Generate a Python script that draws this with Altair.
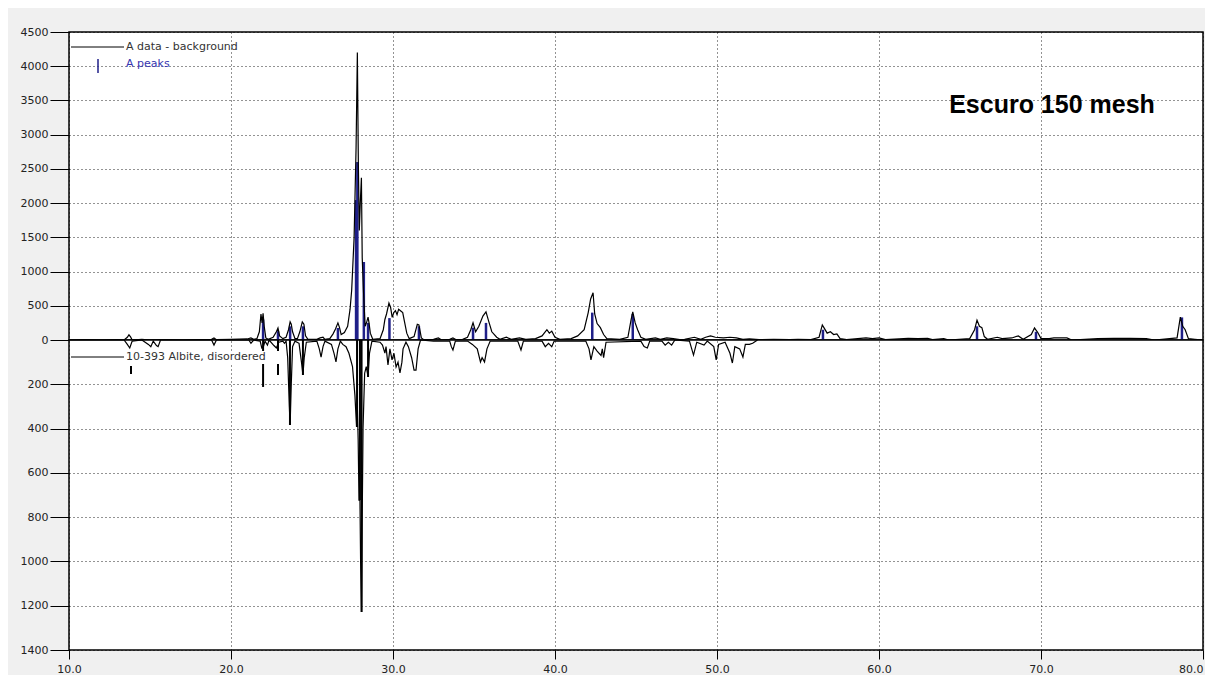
import altair as alt
import pandas as pd

# ---------------- data ----------------
# Top: measured pattern minus background (2-theta, counts)
TOP_TT = [
    10.0, 11.0, 12.0, 13.0, 13.4, 13.6, 13.7, 13.8, 13.9, 14.5, 15.0, 16.0, 17.0, 18.0,
    18.8, 18.95, 19.1, 20.0, 21.0, 21.23, 21.4, 21.6, 21.75, 21.85, 21.92, 21.98, 22.05,
    22.15, 22.3, 22.6, 22.8, 22.9, 23.0, 23.2, 23.4, 23.55, 23.65, 23.72, 23.8, 23.95,
    24.1, 24.25, 24.4, 24.5, 24.6, 24.75, 25.3, 25.5, 25.68, 25.8, 26.1, 26.3, 26.45,
    26.6, 26.7, 26.8, 27.0, 27.2, 27.35, 27.45, 27.6, 27.72, 27.8, 27.86, 27.92, 27.98,
    28.05, 28.1, 28.18, 28.28, 28.38, 28.46, 28.52, 28.6, 28.75, 29.2, 29.4, 29.5, 29.6,
    29.75, 29.85, 29.95, 30.05, 30.15, 30.25, 30.35, 30.5, 30.6, 30.7, 30.85, 31.0, 31.3,
    31.5, 31.6, 31.75, 31.9, 32.5, 32.8, 33.0, 33.5, 33.7, 33.9, 34.3, 34.6, 34.8, 34.94,
    35.1, 35.3, 35.55, 35.74, 35.9, 36.1, 36.4, 36.6, 37.0, 37.3, 37.8, 38.2, 38.8, 39.2,
    39.5, 39.65, 39.8, 40.0, 40.3, 41.0, 41.4, 41.8, 42.05, 42.2, 42.35, 42.45, 42.6,
    42.8, 43.0, 43.2, 44.0, 44.5, 44.7, 44.8, 44.95, 45.1, 45.3, 45.6, 46.2, 46.5, 46.9,
    47.3, 47.7, 48.0, 48.6, 49.0, 49.3, 49.6, 49.9, 50.4, 50.8, 51.2, 51.6, 52.0, 52.6,
    53.5, 54.5, 55.0, 55.8, 56.3, 56.5, 56.6, 56.8, 57.0, 57.2, 57.4, 57.6, 58.0, 59.2,
    59.6, 60.0, 60.4, 61.8, 62.4, 63.0, 63.3, 64.0, 64.3, 65.6, 65.9, 66.05, 66.2, 66.35,
    66.5, 66.7, 67.3, 67.6, 68.2, 68.6, 68.9, 69.4, 69.6, 69.8, 70.0, 70.5, 70.8, 71.6,
    71.9, 73.5, 74.5, 75.5, 76.5, 77.0, 78.4, 78.6, 78.75, 78.9, 79.1, 79.5, 80.0,
]
TOP_CNT = [
    0, 5, 0, 5, 0, 40, 75, 45, 0, 10, 0, 5, 0, 5,
    10, 30, 5, 10, 15, 30, 10, 20, 120, 380, 250, 390, 200,
    30, 10, 40, 120, 175, 60, 20, 40, 150, 265, 230, 120, 20,
    20, 120, 265, 230, 60, 10, 10, 30, 40, 10, 20, 90, 160,
    250, 180, 80, 110, 200, 450, 730, 1500, 2800, 4200, 2600, 1600, 2000,
    2370, 1200, 700, 200, 265, 335, 250, 100, 10, 20, 150, 300, 380,
    540, 480, 330, 400, 430, 370, 450, 420, 400, 280, 100, 20, 50,
    230, 220, 30, 5, 10, 30, 0, 10, 30, 5, 10, 40, 150, 250,
    120, 200, 350, 410, 280, 120, 40, 10, 40, 10, 30, 10, 20, 60,
    150, 100, 130, 40, 10, 20, 60, 150, 400, 600, 690, 380, 240,
    180, 80, 20, 10, 40, 300, 410, 250, 150, 40, 10, 30, 10, 30,
    20, 5, 10, 40, 10, 40, 60, 40, 30, 40, 30, 10, 15, 5,
    10, 5, 10, 5, 40, 220, 180, 100, 120, 80, 90, 20, 5, 30,
    20, 30, 5, 25, 20, 25, 5, 20, 0, 20, 150, 290, 200, 180,
    50, 10, 40, 20, 30, 60, 10, 80, 175, 110, 20, 20, 30, 30,
    0, 20, 25, 25, 20, 0, 30, 335, 200, 150, 20, 10, 0,
]

# Top: identified peaks (blue sticks)
PEAK_TT = [21.98, 22.9, 23.65, 24.44, 26.6, 27.72, 27.8, 28.2, 28.46, 29.78, 31.6,
           34.94, 35.74, 42.3, 44.8, 56.54, 66.05, 69.69, 78.7]
PEAK_CNT = [300, 130, 200, 200, 175, 2045, 2600, 1140, 250, 320, 200,
            180, 250, 400, 380, 150, 200, 120, 330]

# Bottom: reference 10-393 Albite, disordered (profile, drawn downward)
REF_TT = [
    10.0, 13.4, 13.6, 13.75, 13.9, 14.5, 14.9, 15.05, 15.2, 15.4, 15.5, 15.65, 18.8,
    18.95, 19.1, 21.1, 21.23, 21.4, 21.8, 21.9, 22.0, 22.1, 22.25, 22.35, 22.65, 22.8,
    22.95, 23.2, 23.3, 23.4, 23.5, 23.6, 23.65, 23.72, 23.8, 23.95, 24.2, 24.35, 24.44,
    24.52, 24.65, 25.3, 25.45, 25.56, 25.68, 25.8, 26.2, 26.36, 26.48, 26.6, 26.75, 26.9,
    27.1, 27.28, 27.5, 27.65, 27.75, 27.8, 27.85, 27.9, 27.96, 28.0, 28.06, 28.1, 28.15,
    28.25, 28.35, 28.46, 28.55, 28.7, 29.2, 29.35, 29.5, 29.57, 29.69, 29.81, 29.94,
    30.06, 30.19, 30.31, 30.43, 30.55, 30.62, 30.8, 30.95, 31.15, 31.3, 31.42, 31.55,
    31.7, 32.5, 33.5, 33.6, 33.7, 33.85, 34.6, 34.9, 35.2, 35.4, 35.5, 35.65, 35.8, 36.0,
    37.7, 37.9, 38.05, 39.2, 39.4, 39.6, 39.8, 39.95, 41.9, 42.1, 42.22, 42.4, 42.6,
    42.84, 42.92, 43.0, 43.15, 45.3, 45.5, 45.7, 45.85, 46.6, 46.8, 47.0, 47.2, 47.4,
    48.3, 48.55, 48.75, 49.2, 49.4, 49.8, 49.95, 50.1, 50.5, 50.8, 50.95, 51.1, 51.4,
    51.6, 51.75, 52.0, 52.2, 52.5,
]
REF_INT = [
    0, 0, 20, 36, 5, 0, 20, 30, 5, 25, 30, 0, 0,
    23, 0, 0, 15, 0, 5, 36, 30, 5, 23, 0, 25, 36,
    10, 5, 15, 5, 80, 300, 384, 200, 30, 5, 15, 100, 158,
    80, 10, 5, 40, 77, 30, 5, 20, 60, 99, 40, 5, 20,
    30, 60, 120, 250, 393, 300, 450, 723, 723, 1000, 1228, 800, 400,
    150, 120, 167, 59, 5, 10, 23, 59, 30, 113, 40, 90,
    60, 122, 100, 149, 100, 40, 10, 30, 80, 136, 136, 40,
    0, 5, 5, 30, 45, 5, 5, 20, 40, 99, 80, 99, 40, 5,
    5, 45, 5, 5, 30, 15, 30, 5, 5, 40, 90, 30, 50,
    70, 40, 80, 10, 5, 30, 36, 5, 5, 23, 10, 23, 0,
    5, 68, 10, 23, 5, 30, 90, 20, 10, 60, 104, 30, 40,
    77, 20, 20, 15, 0,
]

# Bottom: reference sticks
STICK_TT = [21.98, 22.9, 23.64, 24.44, 27.78, 27.96, 28.06, 28.46]
STICK_INT = [212, 158, 384, 158, 393, 723, 1228, 167]

X_TICKS = [10, 20, 30, 40, 50, 60, 70, 80]
TOP_TICKS = [0, 500, 1000, 1500, 2000, 2500, 3000, 3500, 4000, 4500]
BOT_TICKS = [200, 400, 600, 800, 1000, 1200, 1400]

assert len(TOP_TT) == len(TOP_CNT)
assert len(REF_TT) == len(REF_INT)

# ---------------- chart ----------------
W, H_TOP, H_BOT = 1134, 308, 310
FONT = "DejaVu Sans"
BLUE = "#1f1f88"
GRID = dict(grid=True, gridColor="#000000", gridDash=[1, 3], gridWidth=1, gridOpacity=0.85)

xs = alt.Scale(domain=[10, 80], nice=False, zero=False)
ys_top = alt.Scale(domain=[0, 4500], nice=False)
ys_bot = alt.Scale(domain=[0, 1400], nice=False, reverse=True)

top_df = pd.DataFrame({"tt": TOP_TT, "cnt": TOP_CNT})
peak_df = pd.DataFrame({"tt": PEAK_TT, "cnt": PEAK_CNT})
ref_df = pd.DataFrame({"tt": REF_TT, "cnt": REF_INT})
stick_df = pd.DataFrame({"tt": STICK_TT, "cnt": STICK_INT})
one = pd.DataFrame({"k": [0]})

y_axis_common = dict(title=None, format="d", tickSize=19, tickColor="#000000", tickWidth=1,
                     labelPadding=2, labelFont=FONT, labelFontSize=11, labelColor="#222222",
                     domain=False, minExtent=60, maxExtent=60, **GRID)

x_top = alt.X("tt:Q", scale=xs,
              axis=alt.Axis(values=X_TICKS, labels=False, ticks=False, domain=False,
                            title=None, **GRID))
y_top = alt.Y("cnt:Q", scale=ys_top, axis=alt.Axis(values=TOP_TICKS, **y_axis_common))

x_bot = alt.X("tt:Q", scale=xs,
              axis=alt.Axis(values=X_TICKS, format=".1f", title=None, tickSize=9,
                            tickColor="#000000", labelPadding=4, labelFont=FONT,
                            labelFontSize=11, labelColor="#222222", domain=False,
                            labelFlush=False,
                            labelAlign=alt.ExprRef(expr="datum.value >= 80 ? 'right' : 'center'"),
                            **GRID))
y_bot = alt.Y("cnt:Q", scale=ys_bot, axis=alt.Axis(values=BOT_TICKS, **y_axis_common))

peaks = alt.Chart(peak_df).mark_rule(color=BLUE, strokeWidth=2.5).encode(
    x=x_top, y=y_top, y2=alt.datum(0))
top_line = alt.Chart(top_df).mark_line(color="#000000", strokeWidth=1.2, clip=True).encode(
    x=x_top, y=y_top)

leg1_line = alt.Chart(one).mark_rule(color="#000000", strokeWidth=1).encode(
    x=alt.value(2), x2=alt.value(55), y=alt.value(15))
leg1_text = alt.Chart(one).mark_text(align="left", baseline="middle", font=FONT,
                                     fontSize=11, color="#333333").encode(
    x=alt.value(57), y=alt.value(15), text=alt.value("A data - background"))
leg2_bar = alt.Chart(one).mark_rule(color=BLUE, strokeWidth=1.5).encode(
    x=alt.value(29), y=alt.value(27), y2=alt.value(41))
leg2_text = alt.Chart(one).mark_text(align="left", baseline="middle", font=FONT,
                                     fontSize=11, color="#3535b0").encode(
    x=alt.value(57), y=alt.value(32), text=alt.value("A peaks"))
label = alt.Chart(one).mark_text(align="center", baseline="middle", font="Liberation Sans",
                                 fontSize=25, fontWeight="bold", color="#000000").encode(
    x=alt.value(983), y=alt.value(73), text=alt.value("Escuro 150 mesh"))

top = alt.layer(peaks, top_line, leg1_line, leg1_text, leg2_bar, leg2_text, label).properties(
    width=W, height=H_TOP)

ref_line = alt.Chart(ref_df).mark_line(color="#000000", strokeWidth=1.2, clip=True).encode(
    x=x_bot, y=y_bot)
sticks = alt.Chart(stick_df).mark_rule(color="#000000", strokeWidth=2).encode(
    x=x_bot, y=y_bot, y2=alt.datum(0))
leg3_box = alt.Chart(one).mark_rect(color="white").encode(
    x=alt.value(56), x2=alt.value(213), y=alt.value(11), y2=alt.value(24))
leg3_line = alt.Chart(one).mark_rule(color="#000000", strokeWidth=1).encode(
    x=alt.value(2), x2=alt.value(55), y=alt.value(17))
leg3_text = alt.Chart(one).mark_text(align="left", baseline="middle", font=FONT,
                                     fontSize=11, color="#333333").encode(
    x=alt.value(57), y=alt.value(17), text=alt.value("10-393 Albite, disordered"))
leg3_stick = alt.Chart(one).mark_rule(color="#000000", strokeWidth=2).encode(
    x=alt.value(62), y=alt.value(26), y2=alt.value(34))

bottom = alt.layer(sticks, ref_line, leg3_box, leg3_line, leg3_text, leg3_stick).properties(
    width=W, height=H_BOT)

chart = alt.vconcat(top, bottom, spacing=0, bounds="flush").properties(
    background="#f0f0f0",
    padding={"top": 17, "left": 0, "right": 0, "bottom": 0},
).configure_view(fill="white", stroke="#000000", strokeWidth=1.5)

chart.save("out.html", embed_options={"renderer": "svg", "actions": False})
